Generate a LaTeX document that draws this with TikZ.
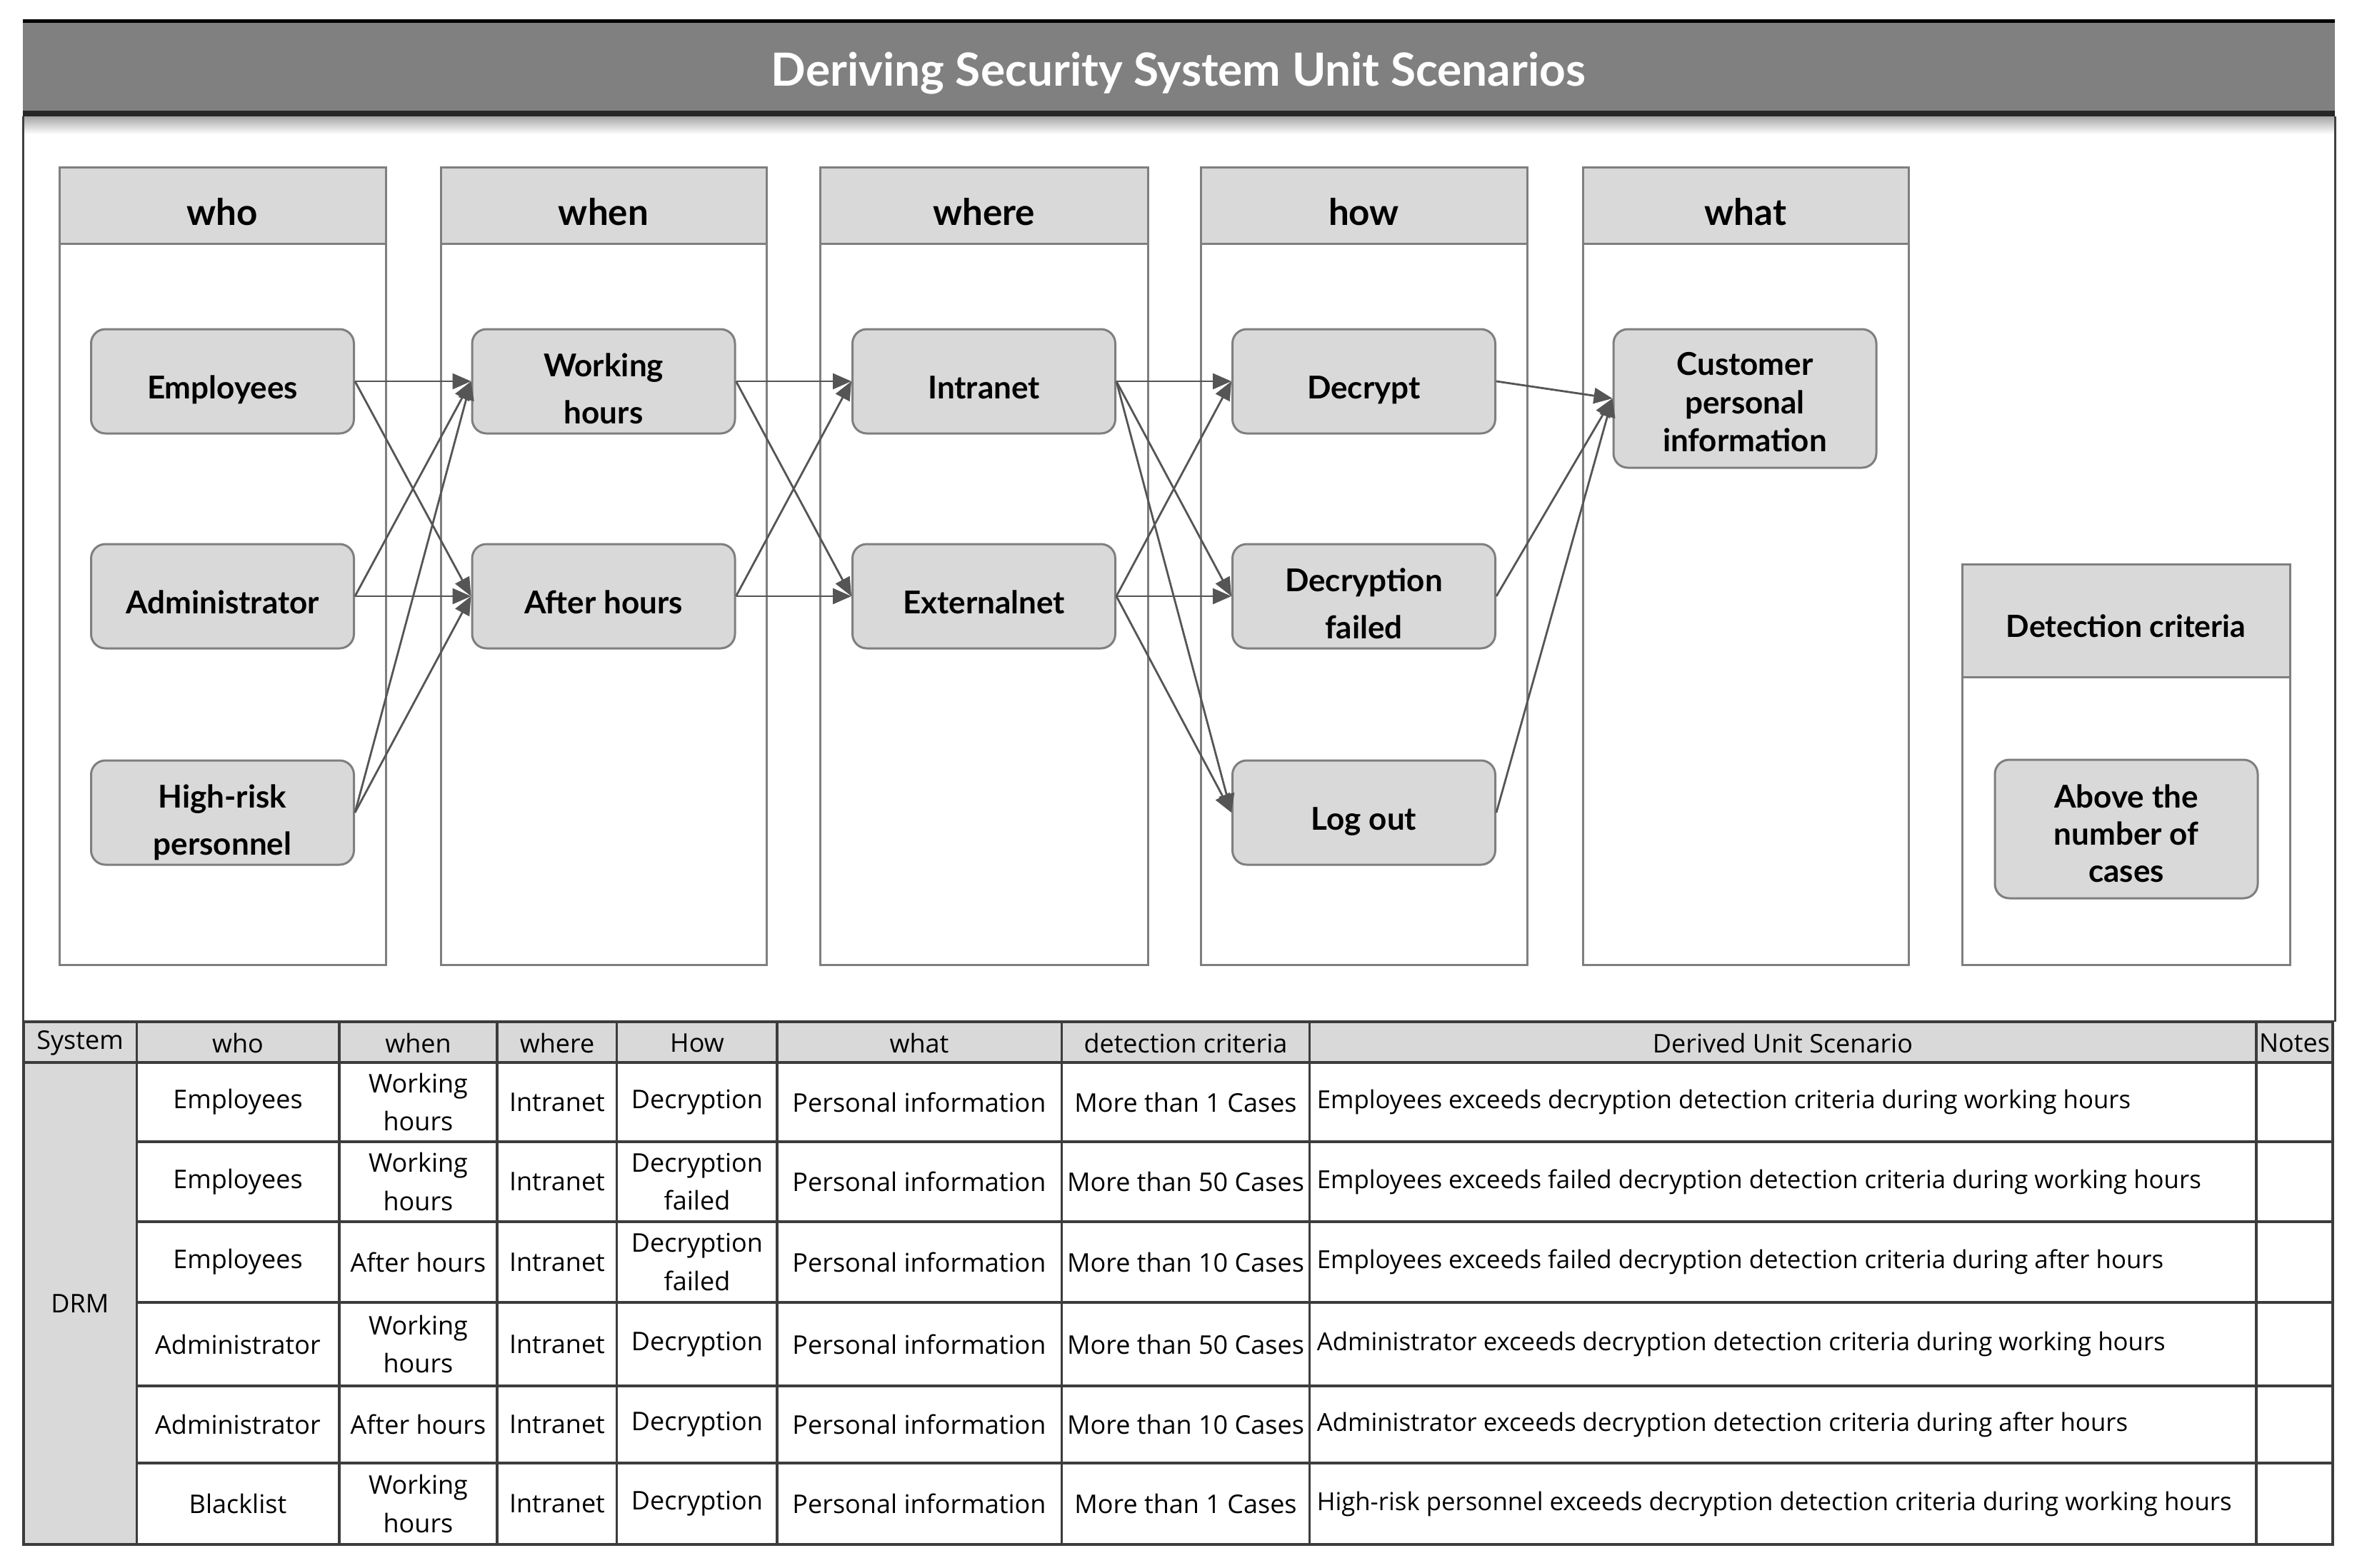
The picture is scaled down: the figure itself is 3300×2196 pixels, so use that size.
\documentclass[tikz,border=0pt]{standalone}
\usepackage{fontspec}
\setmainfont{Open Sans}
\newfontfamily\tabfont{Open Sans}
\newfontfamily\bfam{Lato}
\usetikzlibrary{arrows.meta}
\definecolor{hdr}{HTML}{D9D9D9}
\definecolor{bord}{HTML}{7F7F7F}
\definecolor{arr}{HTML}{555555}
\definecolor{tline}{HTML}{3C3C3C}
\definecolor{bar}{HTML}{808080}
\begin{document}
\begin{tikzpicture}[x=0.25pt,y=-0.25pt,
  colframe/.style={draw=bord, line width=0.75pt},
  colhead/.style={draw=bord, fill=hdr, line width=0.75pt},
  item/.style={draw=bord, fill=hdr, line width=0.75pt, rounded corners=5pt,
    minimum width=92pt, minimum height=36.5pt, align=center, inner sep=0pt,
    font=\bfam\bfseries\fontsize{11}{16.5}\selectfont,
    execute at begin node={\rule{0pt}{15pt}},
    execute at end node={\rule[-2.6pt]{0pt}{2.6pt}}},
  twoitem/.style={item, execute at begin node={\rule{0pt}{32.4pt}}},
  tallitem/.style={item, minimum height=48.5pt, font=\bfam\bfseries\fontsize{11}{13.4}\selectfont,
    execute at begin node={\rule{0pt}{40pt}}},
  headtxt/.style={font=\bfam\bfseries\fontsize{12.8}{14}\selectfont, inner sep=0pt},
  link/.style={draw=arr, line width=0.7pt, -{Triangle[length=6.5pt,width=5.5pt]}},
  tcell/.style={font=\tabfont\fontsize{9}{13.3}\selectfont, align=center, inner sep=0pt},
  tleft/.style={font=\tabfont\fontsize{8.7}{13.3}\selectfont, anchor=west, inner sep=0pt},
  tl/.style={draw=tline, line width=0.9pt},
]
\useasboundingbox (0,0) rectangle (3300,2196);
\fill[white] (0,0) rectangle (3300,2196);

% ---------- title bar ----------
\shade[top color=black!35, bottom color=white] (32,163) rectangle (3269,188);
\fill[bar] (32,27) rectangle (3269,163);
\draw[black, line width=1.25pt] (32,29.5) -- (3269,29.5);
\draw[black!85, line width=2pt] (32,159) -- (3269,159);
\node[text=white, font=\bfam\bfseries\fontsize{16}{18}\selectfont, anchor=base] (title) at (1650,120) {Deriving Security System Unit Scenarios};

% ---------- outer frame ----------
\draw[draw=black!75, line width=0.75pt] (32,163) -- (32,1431);
\draw[draw=black!75, line width=0.75pt] (3269,163) -- (3269,1431);

% ---------- columns ----------
\foreach \xl/\xr in {83/540, 617/1073, 1148/1607, 1681/2138, 2216/2672}{
  \draw[colframe] (\xl,234) rectangle (\xr,1351);
  \draw[colhead] (\xl,234) rectangle (\xr,341);
}
\draw[colframe] (2747,790) rectangle (3206,1351);
\draw[colhead] (2747,790) rectangle (3206,948);

\node[headtxt] (hwho) at (311.5,297) {who};
\node[headtxt] (hwhen) at (845,297) {when};
\node[headtxt] (hwhere) at (1377.5,297) {where};
\node[headtxt] (hhow) at (1909.5,297) {how};
\node[headtxt] (hwhat) at (2444,297) {what};
\node[font=\bfam\bfseries\fontsize{10.7}{12}\selectfont, inner sep=0pt] (hdet) at (2976.5,877) {Detection criteria};

% ---------- items ----------
\node[item] (emp) at (311.5,534) {Employees};
\node[item] (adm) at (311.5,835) {Administrator};
\node[twoitem] (hrp) at (311.5,1138) {High-risk\\personnel};

\node[twoitem] (work) at (845,534) {Working\\hours};
\node[item] (after) at (845,835) {After hours};

\node[item] (intra) at (1377.5,534) {Intranet};
\node[item] (extra) at (1377.5,835) {Externalnet};

\node[item] (decr) at (1909.5,534) {Decrypt};
\node[twoitem] (dfail) at (1909.5,835) {Decryption\\failed};
\node[item] (logout) at (1909.5,1138) {Log out};

\node[tallitem] (cust) at (2443,558) {Customer\\personal\\information};
\node[tallitem, font=\bfam\bfseries\fontsize{11}{13}\selectfont, execute at begin node={\rule{0pt}{38.9pt}}] (above) at (2977,1161) {Above the\\number of\\cases};

% ---------- links ----------
\foreach \a/\b in {emp/work, emp/after, adm/work, adm/after, hrp/work, hrp/after,
  work/intra, work/extra, after/intra, after/extra,
  intra/decr, intra/dfail, intra/logout, extra/decr, extra/dfail, extra/logout,
  decr/cust, dfail/cust, logout/cust}{
  \draw[link] (\a.east) -- (\b.west);
}

% ---------- table ----------
\fill[hdr] (33,1431) rectangle (3266,1488);
\fill[hdr] (33,1488) rectangle (191.5,2163);
\foreach \yy in {1599,1711,1824,1941,2049}{
  \draw[tl] (191.5,\yy) -- (3266,\yy);
}
\foreach \xx in {191.5,475,696,863.5,1088,1486.5,1833.5,3159}{
  \draw[tl] (\xx,1431) -- (\xx,2163);
}
\draw[tl] (33,1488) -- (3266,1488);
\draw[tl, line width=1.1pt] (33,1431) rectangle (3266,2163);

% header texts
\node[tcell] (th1) at (112,1461) {System};
\node[tcell] (th2) at (333,1461) {who};
\node[tcell] (th3) at (585.5,1461) {when};
\node[tcell] (th4) at (780,1461) {where};
\node[tcell] (th5) at (976,1461) {How};
\node[tcell] (th6) at (1287,1461) {what};
\node[tcell] (th7) at (1660,1461) {detection criteria};
\node[tcell] (th8) at (2496,1461) {Derived Unit Scenario};
\node[tcell] (th9) at (3212.5,1461) {Notes};

\node[tcell] (drm) at (112,1825.5) {DRM};

% rows
\foreach \yy/\who/\when/\how/\crit/\scen [count=\r] in {
  1543.5/Employees/{Working\\hours}/Decryption/{More than 1 Cases}/{Employees exceeds decryption detection criteria during working hours},
  1655/Employees/{Working\\hours}/{Decryption\\failed}/{More than 50 Cases}/{Employees exceeds failed decryption detection criteria during working hours},
  1767.5/Employees/{After hours}/{Decryption\\failed}/{More than 10 Cases}/{Employees exceeds failed decryption detection criteria during after hours},
  1882.5/Administrator/{Working\\hours}/Decryption/{More than 50 Cases}/{Administrator exceeds decryption detection criteria during working hours},
  1995/Administrator/{After hours}/Decryption/{More than 10 Cases}/{Administrator exceeds decryption detection criteria during after hours},
  2106/Blacklist/{Working\\hours}/Decryption/{More than 1 Cases}/{High-risk personnel exceeds decryption detection criteria during working hours}}{
  \node[tcell] (r\r-who) at (333,\yy) {\who};
  \node[tcell] (r\r-when) at (585.5,\yy) {\when};
  \node[tcell] (r\r-where) at (780,\yy) {Intranet};
  \node[tcell] (r\r-how) at (976,\yy) {\how};
  \node[tcell] (r\r-what) at (1287,\yy) {Personal information};
  \node[tcell] (r\r-crit) at (1660,\yy) {\crit};
  \node[tleft] (r\r-scen) at (1843,\yy) {\scen};
}
\end{tikzpicture}
\end{document}
